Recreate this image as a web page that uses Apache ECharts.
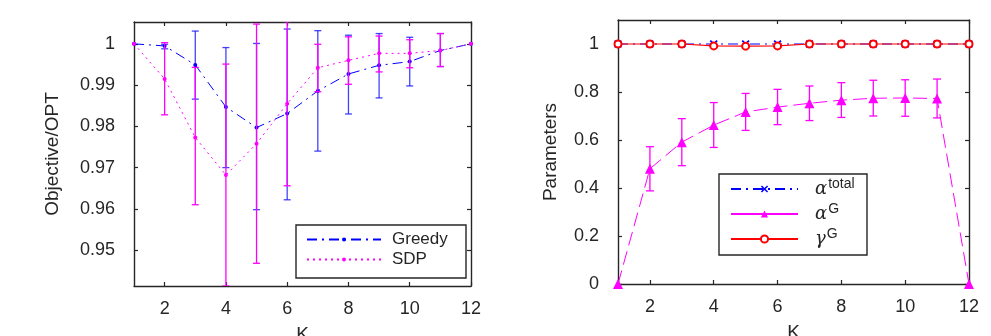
<!DOCTYPE html>
<html>
<head>
<meta charset="utf-8">
<script src="https://cdn.jsdelivr.net/npm/echarts@6/dist/echarts.min.js"></script>
<style>
  html, body { margin: 0; padding: 0; background: #fff; }
  #chart { width: 991px; height: 336px; }
</style>
</head>
<body>
<div id="chart"></div>
<script>
// ---- data ----
const kValues = [1, 2, 3, 4, 5, 6, 7, 8, 9, 10, 11, 12];
const kTicks = [2, 4, 6, 8, 10, 12];

// left panel: Objective/OPT
const objTicks = [0.95, 0.96, 0.97, 0.98, 0.99, 1];
const greedyMean = [1.0, 0.9995, 0.9949, 0.9847, 0.9797, 0.9831, 0.9886, 0.9927, 0.9948, 0.9957, 0.9984, 1.0];
const greedyLow  = [1.0, 0.9988, 0.9866, 0.9700, 0.9598, 0.9622, 0.9740, 0.9830, 0.9869, 0.9898, 0.9945, 1.0];
const greedyHigh = [1.0, 0.9999, 1.0031, 0.9991, 1.0001, 1.0036, 1.0032, 1.0021, 1.0025, 1.0016, 1.0025, 1.0];
const sdpMean = [1.0, 0.9915, 0.9773, 0.9682, 0.9758, 0.9855, 0.9942, 0.9960, 0.9977, 0.9977, 0.9984, 1.0];
const sdpLow  = [1.0, 0.9828, 0.9610, 0.9413, 0.9468, 0.9656, 0.9884, 0.9902, 0.9932, 0.9942, 0.9945, 1.0];
const sdpHigh = [1.0, 1.0003, 0.9943, 0.9951, 1.0048, 1.0054, 0.9999, 1.0017, 1.0019, 1.0010, 1.0025, 1.0];

// right panel: Parameters
const paramTicks = [0, 0.2, 0.4, 0.6, 0.8, 1];
const alphaTotal = [1, 1, 1, 1, 1, 1, 1, 1, 1, 1, 1, 1];
const alphaG     = [0, 0.480, 0.591, 0.662, 0.717, 0.737, 0.753, 0.766, 0.774, 0.775, 0.773, 0];
const alphaGLow  = [0, 0.388, 0.493, 0.569, 0.640, 0.664, 0.681, 0.694, 0.700, 0.699, 0.692, 0];
const alphaGHigh = [0, 0.572, 0.689, 0.756, 0.794, 0.811, 0.825, 0.839, 0.849, 0.851, 0.854, 0];
const gammaG     = [1, 1, 1, 0.992, 0.991, 0.992, 1, 1, 1, 1, 1, 1];

const FONT = "Liberation Sans";
const INK = "#262626";
const BLUE = "#0000ff";
const MAGENTA = "#ff00ff";
const RED = "#ff0000";

const pairs = (ys) => kValues.map((k, i) => [k, ys[i]]);
const bars = (lo, hi) =>
  kValues.map((k, i) => [k, lo[i], hi[i]]).filter((d) => d[2] > d[1]);

// vertical error bar with caps, drawn through the axis scales
const errorBar = (capHalf) => (params, api) => {
  const x = api.value(0);
  const top = api.coord([x, api.value(2)]);
  const bot = api.coord([x, api.value(1)]);
  const style = { stroke: api.visual("color"), lineWidth: 1.3 };
  return {
    type: "group",
    children: [
      { type: "line", shape: { x1: top[0], y1: top[1], x2: bot[0], y2: bot[1] }, style },
      { type: "line", shape: { x1: top[0] - capHalf, y1: top[1], x2: top[0] + capHalf, y2: top[1] }, style },
      { type: "line", shape: { x1: bot[0] - capHalf, y1: bot[1], x2: bot[0] + capHalf, y2: bot[1] }, style },
    ],
  };
};

const fmtTick = (v) => String(+v.toFixed(2));

const frameLine = { show: true, onZero: false, lineStyle: { color: INK, width: 1.4 } };
const innerTick = (vals) => ({
  show: true, inside: true, length: 4,
  customValues: vals,
  lineStyle: { color: INK, width: 1.2 },
});

const xPair = (gridIndex, name) => [
  {
    type: "value", gridIndex, min: 1, max: 12, position: "bottom",
    name, nameLocation: "middle", nameGap: 39,
    nameTextStyle: { fontFamily: FONT, fontSize: 19, color: INK },
    axisLine: frameLine, axisTick: innerTick(kTicks),
    axisLabel: { customValues: kTicks, margin: 14, fontFamily: FONT, fontSize: 18, color: INK },
    splitLine: { show: false },
  },
  {
    type: "value", gridIndex, min: 1, max: 12, position: "top",
    axisLine: frameLine, axisTick: innerTick(kTicks),
    axisLabel: { show: false }, splitLine: { show: false },
  },
];

const yPair = (gridIndex, min, max, ticks, name, nameGap) => [
  {
    type: "value", gridIndex, min, max, position: "left",
    name, nameLocation: "middle", nameGap,
    nameTextStyle: { fontFamily: FONT, fontSize: 19, color: INK },
    axisLine: frameLine, axisTick: innerTick(ticks),
    axisLabel: { customValues: ticks, margin: 19, formatter: fmtTick, fontFamily: FONT, fontSize: 18, color: INK },
    splitLine: { show: false },
  },
  {
    type: "value", gridIndex, min, max, position: "right",
    axisLine: frameLine, axisTick: innerTick(ticks),
    axisLabel: { show: false }, splitLine: { show: false },
  },
];

const xMark = "path://M0,1.5 L1.5,0 L5,3.5 L8.5,0 L10,1.5 L6.5,5 L10,8.5 L8.5,10 L5,6.5 L1.5,10 L0,8.5 L3.5,5 Z";

const chart = echarts.init(document.getElementById("chart"), null, { renderer: "canvas" });

chart.setOption({
  animation: false,
  backgroundColor: "#fff",
  grid: [
    { left: 134, right: 520, top: 22, bottom: 50, outerBoundsMode: "none", containLabel: false },
    { left: 618, right: 22, top: 20, bottom: 52, outerBoundsMode: "none", containLabel: false },
  ],
  xAxis: [...xPair(0, "K"), ...xPair(1, "K")],
  yAxis: [
    ...yPair(0, 0.9413, 1.0053, objTicks, "Objective/OPT", 72),
    ...yPair(1, 0, 1.1, paramTicks, "Parameters", 58),
  ],
  legend: [
    {
      data: ["Greedy", "SDP"],
      orient: "vertical", left: 306, top: 231, padding: 0,
      itemWidth: 74, itemHeight: 5, itemGap: 3,
      formatter: (n) => `{t|${n}}`,
      textStyle: {
        rich: { t: { fontFamily: FONT, fontSize: 17, color: INK, lineHeight: 20, padding: [0, 0, 0, 6] } },
      },
    },
    {
      data: [
        { name: "alphaTotal" },
        { name: "alphaG", lineStyle: { type: "solid" } },
        { name: "gammaG", lineStyle: { type: "solid" } },
      ],
      orient: "vertical", left: 730, top: 177, padding: 0,
      itemWidth: 67, itemHeight: 9, itemGap: 1,
      formatter: (n) => {
        const base = n === "gammaG" ? "γ" : "α";
        const sup = n === "alphaTotal" ? "total" : "G";
        return `{p|}{a|${base}}{s|${sup}}`;
      },
      textStyle: {
        rich: {
          p: { width: 12 },
          a: { fontFamily: "DejaVu Serif", fontStyle: "italic", fontSize: 18, color: INK, lineHeight: 18 },
          s: { fontFamily: FONT, fontSize: 14, color: INK, lineHeight: 14, padding: [0, 0, 10, 1] },
        },
      },
    },
  ],
  graphic: [
    { type: "rect", shape: { x: 296, y: 225, width: 170, height: 53 }, style: { fill: "none", stroke: INK, lineWidth: 1.4 }, z: 100 },
    { type: "rect", shape: { x: 719, y: 174, width: 148, height: 81 }, style: { fill: "none", stroke: INK, lineWidth: 1.4 }, z: 100 },
  ],
  series: [
    // ---- left panel ----
    {
      name: "greedyErr", type: "custom", xAxisIndex: 0, yAxisIndex: 0, clip: true,
      itemStyle: { color: "rgba(20,20,255,0.8)" },
      renderItem: errorBar(3.5), encode: { x: 0, y: [1, 2] },
      data: bars(greedyLow, greedyHigh), z: 2,
    },
    {
      name: "Greedy", type: "line", xAxisIndex: 0, yAxisIndex: 0,
      data: pairs(greedyMean), symbol: "circle", symbolSize: 4,
      itemStyle: { color: BLUE },
      lineStyle: { color: BLUE, width: 1, type: [10, 5, 2, 5] }, z: 3,
    },
    {
      name: "sdpErr", type: "custom", xAxisIndex: 0, yAxisIndex: 0, clip: true,
      itemStyle: { color: MAGENTA },
      renderItem: errorBar(3.5), encode: { x: 0, y: [1, 2] },
      data: bars(sdpLow, sdpHigh), z: 4,
    },
    {
      name: "SDP", type: "line", xAxisIndex: 0, yAxisIndex: 0,
      data: pairs(sdpMean), symbol: "circle", symbolSize: 4,
      itemStyle: { color: MAGENTA },
      lineStyle: { color: MAGENTA, width: 1, type: [2, 4] }, z: 5,
    },
    // ---- right panel ----
    {
      name: "alphaTotal", type: "line", xAxisIndex: 2, yAxisIndex: 2,
      data: pairs(alphaTotal), symbol: xMark, symbolSize: 8,
      itemStyle: { color: BLUE },
      lineStyle: { color: BLUE, width: 1, type: [10, 5, 2, 5] }, z: 3,
    },
    {
      name: "alphaGErr", type: "custom", xAxisIndex: 2, yAxisIndex: 2, clip: true,
      itemStyle: { color: MAGENTA },
      renderItem: errorBar(4), encode: { x: 0, y: [1, 2] },
      data: bars(alphaGLow, alphaGHigh), z: 4,
    },
    {
      name: "alphaG", type: "line", xAxisIndex: 2, yAxisIndex: 2,
      data: pairs(alphaG), symbol: "triangle", symbolSize: 10,
      itemStyle: { color: MAGENTA },
      lineStyle: { color: MAGENTA, width: 1, type: [14, 6] }, z: 5,
    },
    {
      name: "gammaG", type: "line", xAxisIndex: 2, yAxisIndex: 2,
      data: pairs(gammaG), symbol: "emptyCircle", symbolSize: 7,
      itemStyle: { color: RED, borderColor: RED, borderWidth: 3.5 },
      lineStyle: { color: RED, width: 1.2 }, z: 6,
    },
  ],
});
</script>
</body>
</html>
